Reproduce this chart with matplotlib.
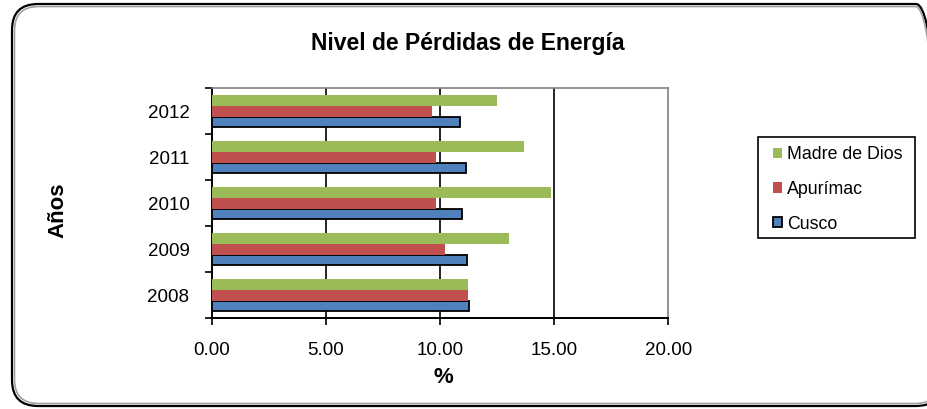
import matplotlib
matplotlib.use("Agg")
import matplotlib.pyplot as plt
import numpy as np
from matplotlib.patches import FancyBboxPatch, Rectangle
from matplotlib.ticker import FixedLocator, NullFormatter

plt.rcParams['font.family'] = ['Liberation Sans', 'DejaVu Sans']

years = ["2008", "2009", "2010", "2011", "2012"]
cusco = [11.28, 11.20, 10.98, 11.12, 10.87]
apurimac = [11.24, 10.22, 9.82, 9.82, 9.66]
madre_de_dios = [11.24, 13.04, 14.85, 13.68, 12.48]
xticks = [0, 5, 10, 15, 20]

W, H = 927, 409
fig = plt.figure(figsize=(W / 100, H / 100), dpi=100)

# outer rounded frame (clipped on the right, as in the reference)
frame_outer = FancyBboxPatch((12 / W, 3 / H), 930 / W, 402 / H,
                             boxstyle="round,pad=0,rounding_size=0.028",
                             transform=fig.transFigure, fill=False,
                             edgecolor='black', linewidth=1.6, mutation_aspect=W / H)
frame_inner = FancyBboxPatch((14.5 / W, 5.5 / H), 925 / W, 397 / H,
                             boxstyle="round,pad=0,rounding_size=0.026",
                             transform=fig.transFigure, fill=False,
                             edgecolor='#a0a0a0', linewidth=1.2, mutation_aspect=W / H)
fig.patches.extend([frame_outer, frame_inner])

ax = fig.add_axes([211.7 / W, 1 - 318.3 / H, 456.6 / W, 230 / H])

y = np.arange(len(years))
h = 0.233
ax.barh(y - h, cusco, height=h, color='#4F81BD', edgecolor='black', linewidth=1.3,
        label='Cusco', zorder=3)
ax.barh(y, apurimac, height=h, color='#C0504D', label='Apurímac', zorder=3)
ax.barh(y + h, madre_de_dios, height=h, color='#9BBB59', label='Madre de Dios', zorder=3)

ax.set_xlim(0, 20)
ax.set_ylim(-0.5, len(years) - 0.5)
ax.set_xticks(xticks)
ax.set_xticklabels([f"{v:.2f}" for v in xticks], fontsize=13.5)
for xv in xticks[1:-1]:
    ax.axvline(xv, color='black', linewidth=1.2, zorder=1)

ax.yaxis.set_major_locator(FixedLocator(np.arange(-0.5, len(years), 1.0)))
ax.yaxis.set_major_formatter(NullFormatter())
ax.yaxis.set_minor_locator(FixedLocator(y))
ax.set_yticklabels(years, minor=True, fontsize=13.5)
ax.tick_params(axis='y', which='major', length=5, width=1.2, direction='out')
ax.tick_params(axis='y', which='minor', length=0, pad=16)
ax.tick_params(axis='x', length=5, width=1.2, direction='out', pad=12)

for s in ['top', 'right']:
    ax.spines[s].set_color('#808080')
    ax.spines[s].set_linewidth(1.2)
for s in ['left', 'bottom']:
    ax.spines[s].set_color('black')
    ax.spines[s].set_linewidth(1.4)

fig.text(443 / W, 1 - 383 / H, '%', fontsize=16, fontweight='bold',
         ha='center', va='baseline')
fig.text(58 / W, 1 - 210.5 / H, 'Años', fontsize=16, fontweight='bold',
         ha='center', va='center', rotation=90)
fig.text(468 / W, 1 - 50 / H, 'Nivel de Pérdidas de Energía', fontsize=16.5,
         fontweight='bold', ha='center', va='baseline')

handles, labels = ax.get_legend_handles_labels()
leg = fig.legend(handles[::-1], labels[::-1], loc='upper left',
                 bbox_to_anchor=(773 / W, 1 - 146 / H), fontsize=12.8, frameon=False,
                 handlelength=0.5, handleheight=0.5, handletextpad=0.3,
                 labelspacing=1.0, borderpad=0, borderaxespad=0)

# legend frame drawn around the legend's own extent
fig.canvas.draw()
bb = leg.get_window_extent()
fx0, fy0 = bb.x0 - 15, bb.y0 - 5
fx1, fy1 = bb.x1 + 12, bb.y1 + 9
fig.patches.append(Rectangle((fx0 / W, fy0 / H), (fx1 - fx0) / W, (fy1 - fy0) / H,
                             transform=fig.transFigure, fill=False,
                             edgecolor='black', linewidth=1.2))

fig.savefig('out.png', dpi=100)
